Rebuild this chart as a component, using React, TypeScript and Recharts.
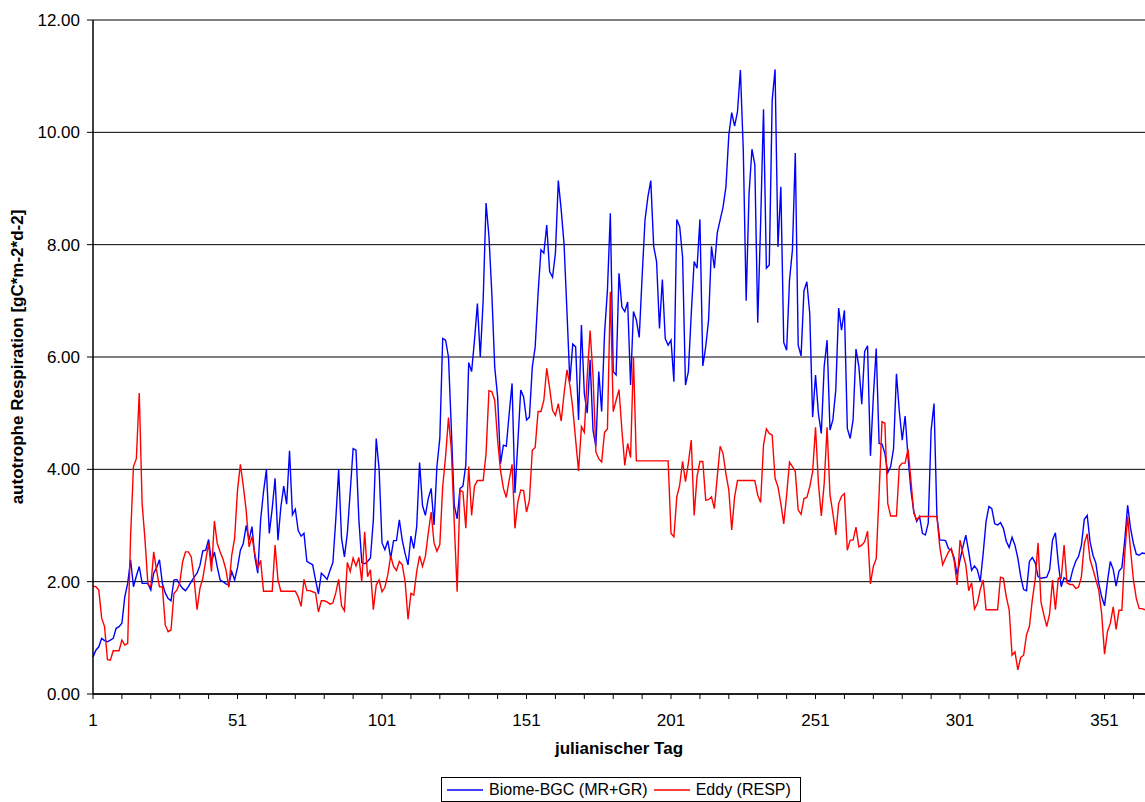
import React from 'react';
import { LineChart, Line, XAxis, YAxis, CartesianGrid, Legend } from 'recharts';

const FONT = '"Liberation Sans", Arial, Helvetica, sans-serif';

// categories: julian days 1..365
const days: number[] = Array.from({ length: 365 }, (_, i) => i + 1);
const xTickDays: number[] = Array.from({ length: 37 }, (_, i) => 1 + i * 10);
const xLabelDays: number[] = [1, 51, 101, 151, 201, 251, 301, 351];
const yTicks: number[] = [0, 2, 4, 6, 8, 10, 12];

// Biome-BGC (MR+GR)
const biomeBGC: number[] = [
  0.66, 0.78, 0.84, 0.99, 0.95, 0.93, 0.96, 0.99, 1.17, 1.2,
  1.26, 1.73, 1.97, 2.39, 1.91, 2.1, 2.27, 1.97, 1.97, 1.97,
  1.85, 2.15, 2.25, 2.39, 1.97, 1.8, 1.7, 1.66, 2.03, 2.04,
  1.95, 1.88, 1.84, 1.91, 2.0, 2.08, 2.15, 2.29, 2.55, 2.56,
  2.75, 2.35, 2.53, 2.26, 2.03, 2.0, 1.96, 1.94, 2.18, 2.03,
  2.25, 2.56, 2.68, 3.0, 2.74, 2.98, 2.44, 2.15, 3.1, 3.6,
  4.0, 2.86, 3.3, 3.84, 2.74, 3.33, 3.7, 3.38, 4.33, 3.19,
  3.29, 2.91, 2.81, 2.86, 2.36, 2.33, 2.3, 2.03, 1.78, 2.15,
  2.1, 2.04, 2.2, 2.34, 3.1, 4.0, 2.77, 2.44, 2.86, 3.6,
  4.37, 4.34, 3.1, 2.34, 2.32, 2.36, 2.42, 3.1, 4.55, 4.0,
  2.69, 2.57, 2.73, 2.42, 2.73, 2.73, 3.1, 2.74, 2.5, 2.3,
  2.81, 2.59, 2.98, 4.12, 3.36, 3.18, 3.48, 3.66, 3.01, 4.05,
  4.55, 6.33, 6.3, 6.0, 4.7, 3.36, 3.12, 3.66, 3.7, 4.08,
  5.9, 5.74, 6.3, 6.95, 6.0, 7.01, 8.74, 8.15, 7.13, 5.82,
  5.29, 4.1, 4.43, 4.41, 4.99, 5.53, 3.58, 4.48, 5.41, 5.29,
  4.88, 4.93, 5.82, 6.18, 7.13, 7.91, 7.85, 8.35, 7.52, 7.42,
  7.85, 9.14, 8.62, 8.0, 6.8, 5.56, 6.23, 6.18, 4.88, 6.57,
  5.35, 5.0, 5.95, 4.7, 4.41, 5.74, 5.03, 6.42, 7.19, 8.56,
  5.74, 5.68, 7.49, 6.89, 6.81, 6.98, 5.5, 6.81, 6.66, 6.35,
  7.43, 8.44, 8.85, 9.14, 7.97, 7.7, 6.51, 7.38, 6.33, 6.21,
  6.3, 5.56, 8.45, 8.32, 7.78, 5.5, 5.74, 6.77, 7.7, 7.58,
  8.45, 5.84, 6.18, 6.66, 7.97, 7.58, 8.21, 8.44, 8.67, 9.03,
  9.95, 10.35, 10.11, 10.37, 11.11, 9.69, 7.0, 8.91, 9.7, 9.42,
  6.61, 8.38, 10.41, 7.58, 7.64, 10.57, 11.12, 7.96, 9.03, 6.26,
  6.12, 7.37, 7.9, 9.63, 6.21, 6.02, 7.18, 7.34, 6.77, 4.93,
  5.68, 4.99, 4.64, 5.83, 6.3, 4.7, 4.88, 5.41, 6.87, 6.48,
  6.83, 4.73, 4.55, 4.88, 6.14, 5.83, 5.16, 6.1, 6.2, 4.24,
  5.29, 6.15, 4.46, 4.45, 4.28, 3.94, 4.05, 4.37, 5.7, 5.03,
  4.52, 4.95, 4.22, 3.63, 3.25, 3.07, 3.16, 2.86, 2.83, 3.04,
  4.7, 5.17, 3.16, 2.74, 2.74, 2.73, 2.59, 2.56, 2.42, 2.12,
  2.39, 2.62, 2.83, 2.53, 2.2, 2.28, 2.21, 2.0, 2.5, 3.07,
  3.34, 3.3, 3.03, 3.01, 3.05, 2.95, 2.72, 2.61, 2.79, 2.65,
  2.42, 2.09, 1.86, 1.84, 2.36, 2.43, 2.34, 2.09, 2.06, 2.07,
  2.08, 2.21, 2.74, 2.87, 2.33, 1.91, 2.07, 2.03, 2.0, 2.21,
  2.36, 2.45, 2.65, 3.11, 3.18, 2.71, 2.47, 2.33, 1.97, 1.73,
  1.57, 2.0, 2.36, 2.22, 1.92, 2.19, 2.25, 2.74, 3.36, 2.95,
  2.68, 2.49, 2.47, 2.51, 2.5,
];

// Eddy (RESP)
const eddyResp: number[] = [
  1.92, 1.91, 1.85, 1.35, 1.2, 0.61, 0.6, 0.77, 0.77, 0.77,
  0.96, 0.87, 0.9, 2.8, 4.05, 4.19, 5.36, 3.39, 2.74, 1.95,
  1.91, 2.53, 2.2, 1.91, 1.91, 1.23, 1.11, 1.14, 1.79, 1.85,
  1.97, 2.35, 2.53, 2.53, 2.44, 2.03, 1.5, 1.88, 2.06, 2.38,
  2.68, 2.18, 3.08, 2.68, 2.53, 2.4, 2.21, 1.9, 2.47, 2.77,
  3.63, 4.09, 3.7, 3.27, 2.62, 2.8, 2.5, 2.24, 2.38, 1.83,
  1.83, 1.83, 1.83, 2.65, 2.03, 1.83, 1.83, 1.83, 1.83, 1.83,
  1.83, 1.73, 1.56, 2.04, 1.84, 1.84, 1.82, 1.8, 1.46, 1.66,
  1.66, 1.64, 1.6, 1.62, 1.8, 2.04, 1.57, 1.48, 2.34, 2.18,
  2.42, 2.28, 2.43, 2.0, 2.89, 2.09, 2.21, 1.5, 1.94, 2.03,
  1.82, 1.9, 2.12, 2.46, 2.27, 2.2, 2.36, 2.3, 2.0, 1.33,
  1.79, 1.76, 2.18, 2.46, 2.27, 2.45, 2.86, 3.24, 2.69, 2.54,
  2.66, 3.69, 4.23, 4.92, 4.34, 3.04, 1.82, 3.63, 3.6, 2.95,
  4.05, 3.18, 3.7, 3.8, 3.8, 3.8, 4.28, 5.4, 5.38, 5.23,
  4.52, 3.98, 3.66, 3.5, 3.81, 4.09, 2.95, 3.42, 3.63, 3.62,
  3.24, 3.45, 4.34, 4.39, 5.03, 5.03, 5.23, 5.8, 5.44, 5.05,
  4.96, 5.17, 4.86, 5.35, 5.77, 5.5, 5.09, 4.52, 3.97, 4.76,
  4.66, 5.65, 6.47, 5.68, 4.31, 4.19, 4.13, 4.66, 4.72, 7.16,
  5.03, 5.23, 5.42, 4.7, 4.07, 4.46, 4.21, 6.0, 4.15, 4.15,
  4.15, 4.15, 4.15, 4.15, 4.15, 4.15, 4.15, 4.15, 4.15, 4.15,
  2.86, 2.8, 3.51, 3.72, 4.14, 3.78, 4.11, 4.52, 3.18, 3.87,
  4.14, 4.14, 3.45, 3.46, 3.51, 3.3, 3.87, 4.41, 4.28, 3.92,
  3.63, 2.92, 3.51, 3.8, 3.8, 3.8, 3.8, 3.8, 3.8, 3.8,
  3.54, 3.41, 4.43, 4.72, 4.64, 4.61, 3.84, 3.69, 3.39, 3.03,
  3.54, 4.13, 4.05, 3.96, 3.28, 3.2, 3.48, 3.5, 3.69, 3.96,
  4.75, 3.75, 3.17, 3.75, 4.75, 3.55, 3.22, 2.83, 3.39, 3.52,
  3.57, 2.56, 2.74, 2.74, 2.97, 2.62, 2.65, 2.71, 2.9, 1.96,
  2.27, 2.41, 3.57, 4.85, 4.82, 3.39, 3.17, 3.17, 3.17, 4.05,
  4.11, 4.11, 4.36, 3.81, 3.22, 3.1, 3.16, 3.16, 3.16, 3.16,
  3.16, 3.16, 3.16, 2.62, 2.3, 2.42, 2.53, 2.59, 2.36, 1.94,
  2.74, 2.5, 2.3, 1.84, 1.98, 1.51, 1.61, 1.86, 2.03, 1.5,
  1.5, 1.5, 1.5, 1.5, 2.08, 2.06, 1.73, 1.5, 0.69, 0.75,
  0.43, 0.65, 0.69, 1.05, 1.2, 1.67, 2.04, 2.69, 1.64, 1.41,
  1.2, 1.43, 2.03, 1.5, 2.06, 2.06, 2.65, 1.98, 1.95, 1.95,
  1.88, 1.9, 2.09, 2.68, 2.85, 2.39, 2.22, 2.03, 1.85, 1.43,
  0.71, 1.11, 1.26, 1.55, 1.15, 1.49, 1.49, 2.5, 3.16, 2.56,
  2.03, 1.7, 1.52, 1.52, 1.5,
];

const data = days.map((d, i) => ({ day: d, biome: biomeBGC[i], eddy: eddyResp[i] }));

const XTick = (props: any) => {
  const { x, y, payload } = props;
  if (!xLabelDays.includes(payload.value)) return <g />;
  return (
    <text x={x} y={y} dy="0.72em" textAnchor="middle" fontSize={17} fontFamily={FONT} fill="#000">
      {payload.value}
    </text>
  );
};

const YTitle = (props: any) => {
  const vb = props.viewBox || { x: 0, y: 20, width: 93, height: 674 };
  const cx = vb.x + 17;
  const cy = vb.y + vb.height / 2;
  return (
    <text
      x={cx}
      y={cy}
      transform={`rotate(-90 ${cx} ${cy})`}
      textAnchor="middle"
      dominantBaseline="central"
      fontSize={17}
      fontWeight="bold"
      fontFamily={FONT}
      fill="#000"
    >
      autotrophe Respiration [gC*m-2*d-2]
    </text>
  );
};

const XTitle = (props: any) => {
  const vb = props.viewBox || { x: 93, y: 694, width: 1052, height: 30 };
  return (
    <text
      x={vb.x + vb.width / 2}
      y={vb.y + 60}
      textAnchor="middle"
      fontSize={17}
      fontWeight="bold"
      fontFamily={FONT}
      fill="#000"
    >
      julianischer Tag
    </text>
  );
};

const LegendBox = (props: any) => {
  const items = (props.payload || []) as any[];
  return (
    <div
      style={{
        boxSizing: 'border-box',
        width: 360,
        height: 25,
        border: '1px solid #000',
        background: '#fff',
        display: 'flex',
        alignItems: 'center',
        fontFamily: FONT,
        fontSize: 16,
        color: '#000',
        paddingLeft: 5,
        whiteSpace: 'nowrap',
      }}
    >
      {items.map((it, i) => (
        <span key={i} style={{ display: 'flex', alignItems: 'center', marginRight: 6 }}>
          <svg width={36} height={6} style={{ display: 'block' }}>
            <line x1={0} y1={3} x2={36} y2={3} stroke={it.color} strokeWidth={1.4} />
          </svg>
          <span style={{ marginLeft: 6 }}>{it.value}</span>
        </span>
      ))}
    </div>
  );
};

export default function App() {
  return (
    <div style={{ position: 'absolute', left: 0, top: 0, width: 1145, height: 802, background: '#fff' }}>
      <LineChart
        width={1145}
        height={802}
        data={data}
        margin={{ top: 20, right: 0, bottom: 78, left: 0 }}
      >
        <CartesianGrid vertical={false} stroke="#000" strokeWidth={1} />
        <XAxis
          dataKey="day"
          type="number"
          domain={[1, 365]}
          ticks={xTickDays}
          interval={0}
          height={30}
          tickSize={5}
          tickMargin={15}
          tick={<XTick />}
          axisLine={{ stroke: '#000', strokeWidth: 1.5 }}
          tickLine={{ stroke: '#000', strokeWidth: 1 }}
          label={{ content: <XTitle /> } as any}
        />
        <YAxis
          type="number"
          domain={[0, 12]}
          ticks={yTicks}
          interval={0}
          width={93}
          tickSize={6}
          tickMargin={7}
          tickFormatter={(v: number) => v.toFixed(2)}
          tick={{ fill: '#000', fontSize: 17, fontFamily: FONT }}
          axisLine={{ stroke: '#000', strokeWidth: 1.5 }}
          tickLine={{ stroke: '#000', strokeWidth: 1 }}
          label={{ content: <YTitle /> } as any}
        />
        <Legend
          layout="horizontal"
          verticalAlign="middle"
          align="center"
          content={<LegendBox />}
          wrapperStyle={{ left: 441, top: 777, width: 360, height: 25 }}
        />
        <Line
          type="linear"
          dataKey="biome"
          name="Biome-BGC (MR+GR)"
          stroke="#0000ff"
          strokeWidth={1.4}
          dot={false}
          activeDot={false}
          isAnimationActive={false}
        />
        <Line
          type="linear"
          dataKey="eddy"
          name="Eddy (RESP)"
          stroke="#ff0000"
          strokeWidth={1.4}
          dot={false}
          activeDot={false}
          isAnimationActive={false}
        />
      </LineChart>
    </div>
  );
}
